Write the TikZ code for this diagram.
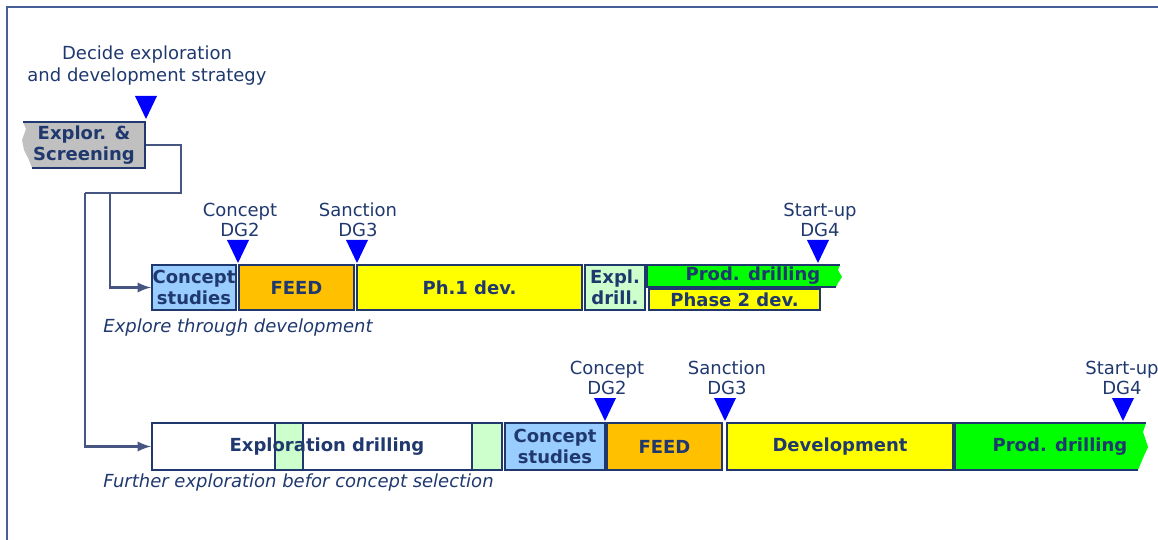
\documentclass[tikz,border=0pt]{standalone}
\usepackage{fontspec}
\setmainfont{DejaVu Sans}
\usetikzlibrary{arrows,positioning,calc}
\definecolor{inknavy}{RGB}{31,56,110}
\definecolor{linknavy}{RGB}{70,85,130}
\definecolor{framenavy}{RGB}{70,95,150}
\definecolor{gateblue}{RGB}{0,0,255}
\definecolor{stagegray}{RGB}{192,192,192}
\definecolor{stagesky}{RGB}{153,204,255}
\definecolor{stageorange}{RGB}{255,192,0}
\definecolor{stageyellow}{RGB}{255,255,0}
\definecolor{stagemint}{RGB}{204,255,204}
\definecolor{stagegreen}{RGB}{0,255,0}
\newcommand{\gate}[2]{\fill[gateblue] (#1-11,#2-23) -- (#1+11,#2-23) -- (#1,#2) -- cycle;}

\begin{document}
\begin{tikzpicture}[x=0.5pt, y=-0.5pt,
    stage/.style={draw=inknavy, line width=1pt, inner sep=0pt, text=inknavy, align=center,
        font=\fontsize{9}{10.5}\selectfont\bfseries},
    gatelbl/.style={text=inknavy, inner sep=0pt, align=center, font=\fontsize{9}{10}\selectfont},
    note/.style={text=inknavy, inner sep=0pt, anchor=west, font=\fontsize{9}{11}\selectfont\itshape},
    edge/.style={draw=inknavy, line width=1pt},
    link/.style={draw=linknavy, line width=1.3pt}]
    \useasboundingbox (0,0) rectangle (1158,540);
    \draw[framenavy, line width=1.3pt] (7,540) -- (7,7) -- (1158,7);

    \node[gatelbl, font=\fontsize{9}{11}\selectfont] (strategy) at (147,66) {Decide exploration\\and development strategy};
    \gate{146}{119}
    \fill[stagegray] (23,122) -- (145,122) -- (145,168) -- (32,168) -- (29,160) -- (24,150) -- (22,140) -- (26,129) -- cycle;
    \draw[edge] (23,122) -- (145,122) -- (145,168) -- (32,168);
    \node[stage, draw=none, minimum width=61pt, minimum height=23pt] (explor) at (84,145) {Explor. \&\\Screening};

    \node[stage, fill=stagesky, minimum width=42pt, minimum height=22.5pt] (cs1) at (194,287.5) {Concept\\studies};
    \node[stage, fill=stageorange, minimum width=57.5pt, minimum height=22.5pt] (feed1) at (296.5,287.5) {FEED};
    \node[stage, fill=stageyellow, minimum width=112.5pt, minimum height=22.5pt] (dev1) at (469.5,287.5) {Ph.1 dev.};
    \node[stage, fill=stagemint, minimum width=30pt, minimum height=22.5pt] (expl1) at (615,287.5) {Expl.\\drill.};
    \fill[stagegreen] (647,265) -- (840,265) -- (838,270) -- (842,277) -- (838,283) -- (836,287) -- (647,287) -- cycle;
    \draw[edge] (840,265) -- (647,265) -- (647,287) -- (836,287);
    \node[stage, draw=none] (prod1) at (753,276) {Prod. drilling};
    \node[stage, fill=stageyellow, minimum width=85.5pt, minimum height=10.5pt] (ph2) at (734.5,299.5) {Phase 2 dev.};
    \gate{238}{263}
    \gate{357}{263}
    \gate{818}{263}
    \node[gatelbl] (dg2a) at (240,220) {Concept\\DG2};
    \node[gatelbl] (dg3a) at (358,220) {Sanction\\DG3};
    \node[gatelbl] (dg4a) at (820,220) {Start-up\\DG4};
    \node[note] (route1) at (103,328) {Explore through development};

    \filldraw[fill=stagemint, draw=inknavy, line width=1pt] (275,423) rectangle (303,470);
    \filldraw[fill=stagemint, draw=inknavy, line width=1pt] (472,423) rectangle (502,470);
    \node[stage, minimum width=175pt, minimum height=23.5pt] (ed) at (327,446.5) {Exploration drilling};
    \node[stage, fill=stagesky, minimum width=50pt, minimum height=23.5pt] (cs2) at (555,446.5) {Concept\\studies};
    \node[stage, fill=stageorange, minimum width=57.5pt, minimum height=23.5pt] (feed2) at (664.5,446.5) {FEED};
    \node[stage, fill=stageyellow, minimum width=113pt, minimum height=23.5pt] (dev2) at (840,446.5) {Development};
    \fill[stagegreen] (955,423) -- (1146,423) -- (1143,432) -- (1148,447) -- (1143,458) -- (1138,470) -- (955,470) -- cycle;
    \draw[edge] (1146,423) -- (955,423) -- (955,470) -- (1138,470);
    \node[stage, draw=none] (prod2) at (1060,446.5) {Prod. drilling};
    \gate{605}{421}
    \gate{725}{421}
    \gate{1123}{421}
    \node[gatelbl] (dg2b) at (607,378) {Concept\\DG2};
    \node[gatelbl] (dg3b) at (727,378) {Sanction\\DG3};
    \node[gatelbl] (dg4b) at (1122,378) {Start-up\\DG4};
    \node[note] (route2) at (103,483) {Further exploration befor concept selection};

    \coordinate (fork) at (181,193);
    \coordinate (split1) at (110,193);
    \coordinate (split2) at (85,193);
    \draw[link] (explor.east) -| (fork) -- (split2);
    \draw[link, -latex] (split1) |- (cs1.west);
    \draw[link, -latex] (split2) |- (ed.west);
\end{tikzpicture}
\end{document}
